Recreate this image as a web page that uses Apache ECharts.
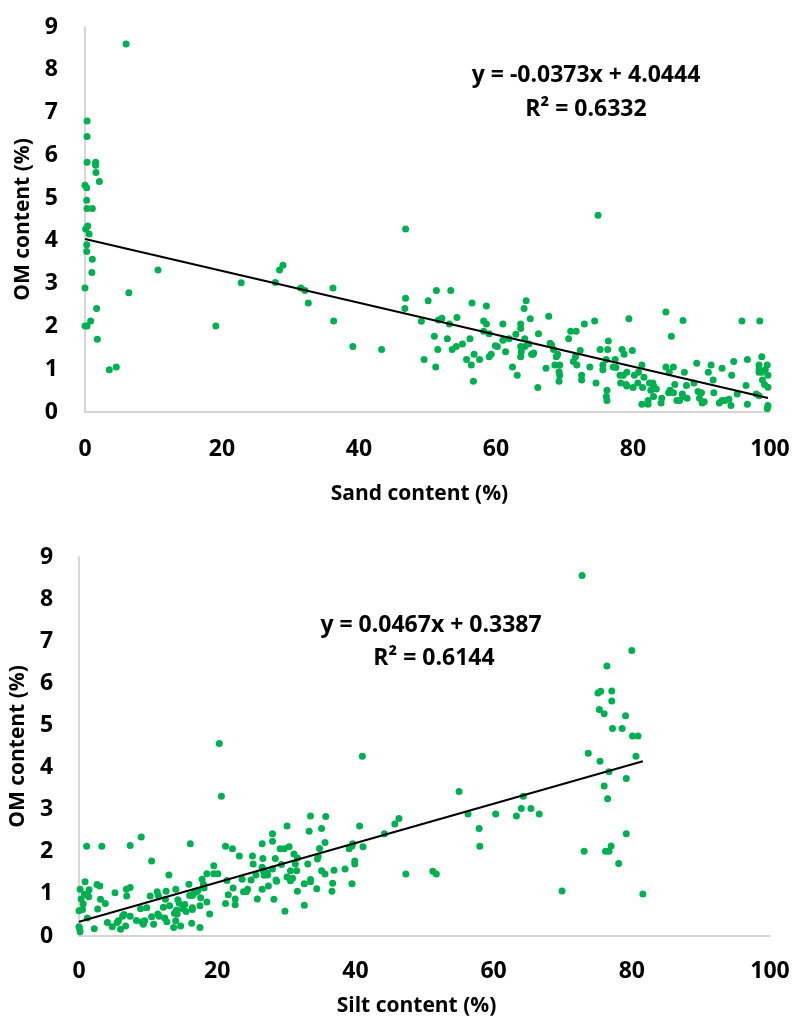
<!DOCTYPE html>
<html>
<head>
<meta charset="utf-8">
<script src="https://cdn.jsdelivr.net/npm/echarts@6/dist/echarts.min.js"></script>
<style>html,body{margin:0;padding:0;background:#fff}#c{width:794px;height:1022px}</style>
</head>
<body>
<div id="c"></div>
<script>
// ---- Data ----
const sandPoints = [[6.0,8.6],[0.3,6.8],[0.3,6.44],[0.3,5.84],[1.55,5.84],[1.55,5.77],[1.6,5.6],[2.1,5.39],[0,5.3],[0.25,5.24],[0.25,4.95],[0.3,4.76],[1.07,4.76],[0.4,4.35],[0.1,4.28],[0.6,4.16],[0.25,3.91],[0.25,3.75],[1.07,3.57],[1.0,3.26],[0,2.9],[1.7,2.42],[0,2.01],[0.3,2.01],[0.83,2.13],[1.8,1.7],[3.55,0.99],[4.57,1.05],[6.4,2.79],[10.66,3.32],[19.1,2.01],[22.8,3.02],[27.8,3.03],[28.4,3.32],[28.9,3.43],[31.5,2.9],[32.1,2.84],[32.6,2.55],[36.2,2.9],[36.3,2.13],[39.1,1.53],[43.3,1.46],[46.8,4.28],[46.8,2.66],[46.7,2.42],[49.1,2.12],[49.5,1.23],[50.1,2.6],[51.3,2.84],[51.0,1.77],[51.5,1.46],[51.2,1.05],[51.6,2.15],[52.1,2.19],[53.2,2.06],[53.4,2.84],[52.9,1.71],[53.6,1.46],[54.2,1.53],[54.3,2.21],[55.1,1.59],[55.7,1.23],[56.2,1.71],[56.5,2.55],[56.4,1.1],[56.8,1.35],[56.7,0.72],[57.6,1.23],[58.6,2.48],[58.2,2.13],[58.6,2.06],[58.2,1.89],[59.0,1.83],[59.0,1.29],[59.3,1.35],[59.9,1.55],[60.2,1.53],[61.0,2.06],[61.0,1.68],[61.4,1.41],[61.9,1.71],[62.4,1.05],[63.1,0.86],[62.9,1.82],[63.6,2.06],[63.6,1.95],[64.4,2.6],[64.1,2.42],[65.0,2.18],[64.2,1.71],[63.6,1.53],[64.2,1.53],[64.8,1.59],[63.7,1.41],[63.6,1.29],[65.2,1.35],[65.4,1.35],[65.5,1.38],[66.2,1.83],[66.1,0.57],[67.3,1.02],[67.7,2.24],[67.9,1.61],[68.1,1.57],[68.4,1.46],[68.8,1.29],[69.0,1.35],[68.6,1.1],[69.3,1.1],[69.2,0.94],[69.3,0.86],[69.2,0.72],[70.6,1.71],[70.9,1.89],[71.7,1.89],[71.3,1.18],[71.8,1.1],[71.6,1.29],[72.3,1.44],[72.9,2.06],[72.5,0.86],[72.5,0.75],[73.7,1.05],[74.4,2.13],[74.6,0.68],[75.2,1.46],[76.3,1.46],[76.4,1.66],[75.6,1.1],[75.6,0.99],[76.1,1.23],[76.2,0.51],[76.1,0.36],[76.2,0.27],[77.1,1.05],[77.5,1.04],[77.4,1.23],[78.4,1.46],[78.7,1.35],[79.4,2.18],[79.9,1.44],[78.1,0.86],[78.6,0.86],[79.1,0.93],[78.2,0.68],[79.0,0.64],[79.1,0.61],[80.2,0.86],[80.8,0.93],[81.3,1.1],[81.6,0.81],[80.0,0.57],[80.7,0.68],[81.3,0.18],[81.4,0.57],[82.2,0.27],[82.2,0.18],[82.4,0.68],[82.9,0.68],[83.0,0.61],[82.6,0.51],[83.4,0.54],[83.0,0.36],[84.1,0.21],[84.2,0.32],[84.8,2.34],[84.8,1.05],[85.3,0.93],[85.9,1.05],[85.6,1.77],[85.2,0.45],[85.4,0.51],[85.9,0.45],[86.1,0.64],[86.4,0.27],[86.8,0.27],[87.2,0.42],[87.3,0.36],[87.3,2.14],[87.5,0.93],[87.8,0.62],[87.9,0.32],[88.9,0.68],[89.3,1.14],[89.5,0.48],[90.0,0.45],[90.1,0.21],[90.4,0.24],[89.7,0.32],[91.0,0.93],[91.4,1.1],[91.7,0.75],[91.8,0.45],[92.6,0.21],[93.0,0.27],[93.0,1.02],[93.4,0.27],[94.0,0.3],[94.3,0.15],[94.4,0.86],[94.7,1.18],[95.2,0.42],[95.9,2.13],[96.5,0.62],[96.7,1.23],[96.7,0.18],[98.5,2.13],[98.8,1.29],[98.4,1.1],[98.4,0.99],[98.8,0.93],[98.4,0.93],[99.3,0.99],[99.6,1.1],[99.7,0.86],[98.9,0.75],[99.2,0.64],[99.7,0.58],[98.0,0.42],[98.4,0.38],[99.7,0.15],[99.6,0.08],[74.9,4.6]];

const siltPoints = [[20.3,4.57],[20.6,3.32],[0.05,0.19],[0.15,0.1],[0,0.22],[0,0.6],[0.5,0.63],[0.6,0.76],[0.3,0.88],[0.15,1.11],[0.77,0.99],[1.2,0.99],[1.4,0.93],[0.87,1.29],[1.45,1.1],[1.1,2.13],[1.2,0.43],[2.2,0.17],[2.6,1.22],[3.0,1.19],[2.7,0.64],[3.1,0.87],[3.3,2.13],[3.8,0.77],[4.1,0.32],[4.8,0.22],[5.2,1.03],[5.5,0.32],[5.7,0.36],[6.0,0.16],[6.3,0.47],[6.5,0.51],[6.75,0.24],[6.9,0.95],[6.85,1.11],[7.4,1.15],[7.4,2.15],[7.4,0.47],[8.3,0.37],[8.9,0.65],[9.0,2.35],[9.1,0.33],[9.5,0.36],[9.3,0.28],[9.8,0.67],[10.3,0.95],[10.5,1.78],[10.5,0.46],[10.8,0.28],[11.3,1.05],[11.5,0.95],[11.4,0.52],[11.6,0.47],[12.2,0.68],[12.5,0.87],[12.6,1.06],[12.4,0.43],[12.7,0.34],[13.0,1.45],[13.1,0.72],[13.7,0.2],[13.8,0.54],[14.0,0.36],[14.0,1.11],[14.3,0.86],[14.5,0.78],[14.1,0.61],[14.2,0.52],[14.7,0.24],[15.0,0.65],[15.3,0.75],[15.5,0.58],[15.9,1.23],[16.1,2.19],[16.0,0.96],[16.4,0.96],[16.4,0.67],[16.4,0.63],[16.3,0.3],[16.6,1.01],[17.0,1.05],[17.2,1.08],[17.6,0.91],[17.5,0.72],[17.5,0.2],[17.8,1.35],[18.0,1.23],[18.1,1.14],[18.5,0.81],[18.5,1.48],[18.9,0.52],[19.5,1.67],[19.5,1.48],[20.1,1.48],[21.2,2.13],[21.4,1.32],[21.2,0.77],[21.6,0.98],[22.2,2.07],[22.3,1.14],[22.6,0.88],[22.6,0.74],[23.2,1.9],[23.6,1.35],[23.8,1.05],[24.2,1.05],[24.4,1.11],[24.9,1.33],[25.1,1.9],[25.2,1.71],[25.6,1.45],[25.8,0.88],[26.5,2.19],[26.5,1.63],[26.7,1.54],[26.8,1.44],[26.5,1.11],[26.6,1.84],[27.2,1.5],[27.3,1.45],[27.4,1.19],[28.0,2.43],[28.0,2.25],[28.0,1.59],[28.2,0.87],[28.4,1.84],[28.5,1.33],[28.6,1.3],[29.1,2.07],[29.8,0.59],[29.7,2.07],[30.4,2.12],[30.1,2.61],[30.1,1.4],[30.6,1.31],[30.9,1.37],[31.1,1.95],[31.3,1.71],[31.5,1.55],[31.6,1.06],[29.3,1.7],[31.6,1.85],[30.6,1.55],[32.6,1.24],[32.6,0.73],[33.5,2.85],[33.3,2.49],[33.1,1.71],[33.5,1.34],[33.5,1.29],[34.4,1.12],[35.1,2.55],[35.7,2.84],[35.6,2.22],[34.8,2.08],[34.6,1.89],[34.5,1.83],[35.1,1.55],[35.6,1.47],[36.7,1.25],[36.6,1.06],[36.9,1.56],[38.5,1.59],[39.1,2.07],[39.5,2.14],[39.6,2.19],[39.9,1.78],[39.9,1.71],[39.5,1.24],[40.6,2.61],[41.1,2.12],[41.0,4.27],[44.2,2.43],[45.7,2.66],[46.3,2.79],[47.3,1.47],[51.2,1.54],[51.7,1.47],[55.0,3.43],[56.3,2.9],[57.9,2.55],[58.0,2.13],[60.3,2.9],[63.3,2.85],[64.0,3.03],[65.4,3.03],[64.3,3.32],[66.6,2.9],[72.8,8.56],[80.0,6.78],[76.4,6.41],[75.1,5.77],[75.5,5.81],[77.1,5.82],[77.1,5.58],[75.3,5.38],[76.0,5.28],[79.1,5.23],[77.2,4.93],[78.6,4.93],[80.1,4.75],[80.9,4.75],[73.7,4.34],[75.4,4.15],[80.6,4.27],[76.7,3.9],[79.2,3.74],[76.0,3.56],[76.5,3.26],[79.2,2.43],[73.1,2.01],[77.0,2.14],[76.2,2.01],[76.7,2.01],[78.1,1.72],[69.9,1.07],[81.6,1.0]];

const trendSlopes = [-0.0373, 0.0467];
const trendIntercepts = [4.0444, 0.3387];
const equationTexts = ['y = -0.0373x + 4.0444', 'R² = 0.6332', 'y = 0.0467x + 0.3387', 'R² = 0.6144'];
const xAxisNames = ['Sand content (%)', 'Silt content (%)'];
const yAxisName = 'OM content (%)';

// ---- Helpers ----
function trendLine(points, i) {
  const xs = points.map(p => p[0]);
  const x0 = Math.min(...xs), x1 = Math.max(...xs);
  return [[x0, trendSlopes[i] * x0 + trendIntercepts[i]], [x1, trendSlopes[i] * x1 + trendIntercepts[i]]];
}

const FONT = '"Open Sans"';
const labelStyle = { color: '#000', fontFamily: FONT, fontWeight: 'bold', fontSize: 23 };
const nameStyle = { color: '#000', fontFamily: FONT, fontWeight: 'bold', fontSize: 21 };

const xGaps = [72, 60];
const xMargins = [26, 24];
const yGaps = [47, 44];
const yMargins = [27, 26];

function xAxis(i) {
  return {
    type: 'value', gridIndex: i, min: 0, max: 100, interval: 20,
    name: xAxisNames[i], nameLocation: 'middle', nameGap: xGaps[i],
    nameTextStyle: Object.assign({}, nameStyle, { padding: [0, 16, 0, 0] }),
    axisLine: { show: true, onZero: false, lineStyle: { color: '#c8c8c8', width: 1.5 } },
    axisTick: { show: false }, splitLine: { show: false },
    axisLabel: Object.assign({ margin: xMargins[i] }, labelStyle)
  };
}
function yAxis(i) {
  return {
    type: 'value', gridIndex: i, min: 0, max: 9, interval: 1,
    name: yAxisName, nameLocation: 'middle', nameGap: yGaps[i], nameTextStyle: nameStyle,
    axisLine: { show: true, onZero: false, lineStyle: { color: '#c8c8c8', width: 1.5 } },
    axisTick: { show: false }, splitLine: { show: false },
    axisLabel: Object.assign({ margin: yMargins[i] }, labelStyle)
  };
}

const chart = echarts.init(document.getElementById('c'), null, { renderer: 'canvas' });
const eqText = (t, x, y) => ({
  type: 'text', x: x, y: y, z: 10,
  style: { text: t, fill: '#000', fontFamily: 'Open Sans', fontWeight: 'bold', fontSize: 23, align: 'center', verticalAlign: 'middle' }
});

chart.setOption({
  backgroundColor: '#fff',
  animation: false,
  grid: [
    { left: 85, top: 27, width: 685, height: 385 },
    { left: 79, top: 557, width: 691, height: 379 }
  ],
  xAxis: [xAxis(0), xAxis(1)],
  yAxis: [yAxis(0), yAxis(1)],
  series: [
    { type: 'scatter', xAxisIndex: 0, yAxisIndex: 0, data: sandPoints, symbolSize: 7, itemStyle: { color: '#00b050', opacity: 1 }, z: 3 },
    { type: 'line', xAxisIndex: 0, yAxisIndex: 0, data: trendLine(sandPoints, 0), symbol: 'none', lineStyle: { color: '#000', width: 2 }, z: 4 },
    { type: 'scatter', xAxisIndex: 1, yAxisIndex: 1, data: siltPoints, symbolSize: 7, itemStyle: { color: '#00b050', opacity: 1 }, z: 3 },
    { type: 'line', xAxisIndex: 1, yAxisIndex: 1, data: trendLine(siltPoints, 1), symbol: 'none', lineStyle: { color: '#000', width: 2 }, z: 4 }
  ],
  graphic: [
    eqText(equationTexts[0], 586, 75),
    eqText(equationTexts[1], 586, 109),
    eqText(equationTexts[2], 431, 625),
    eqText(equationTexts[3], 434, 658)
  ]
});
</script>
</body>
</html>
